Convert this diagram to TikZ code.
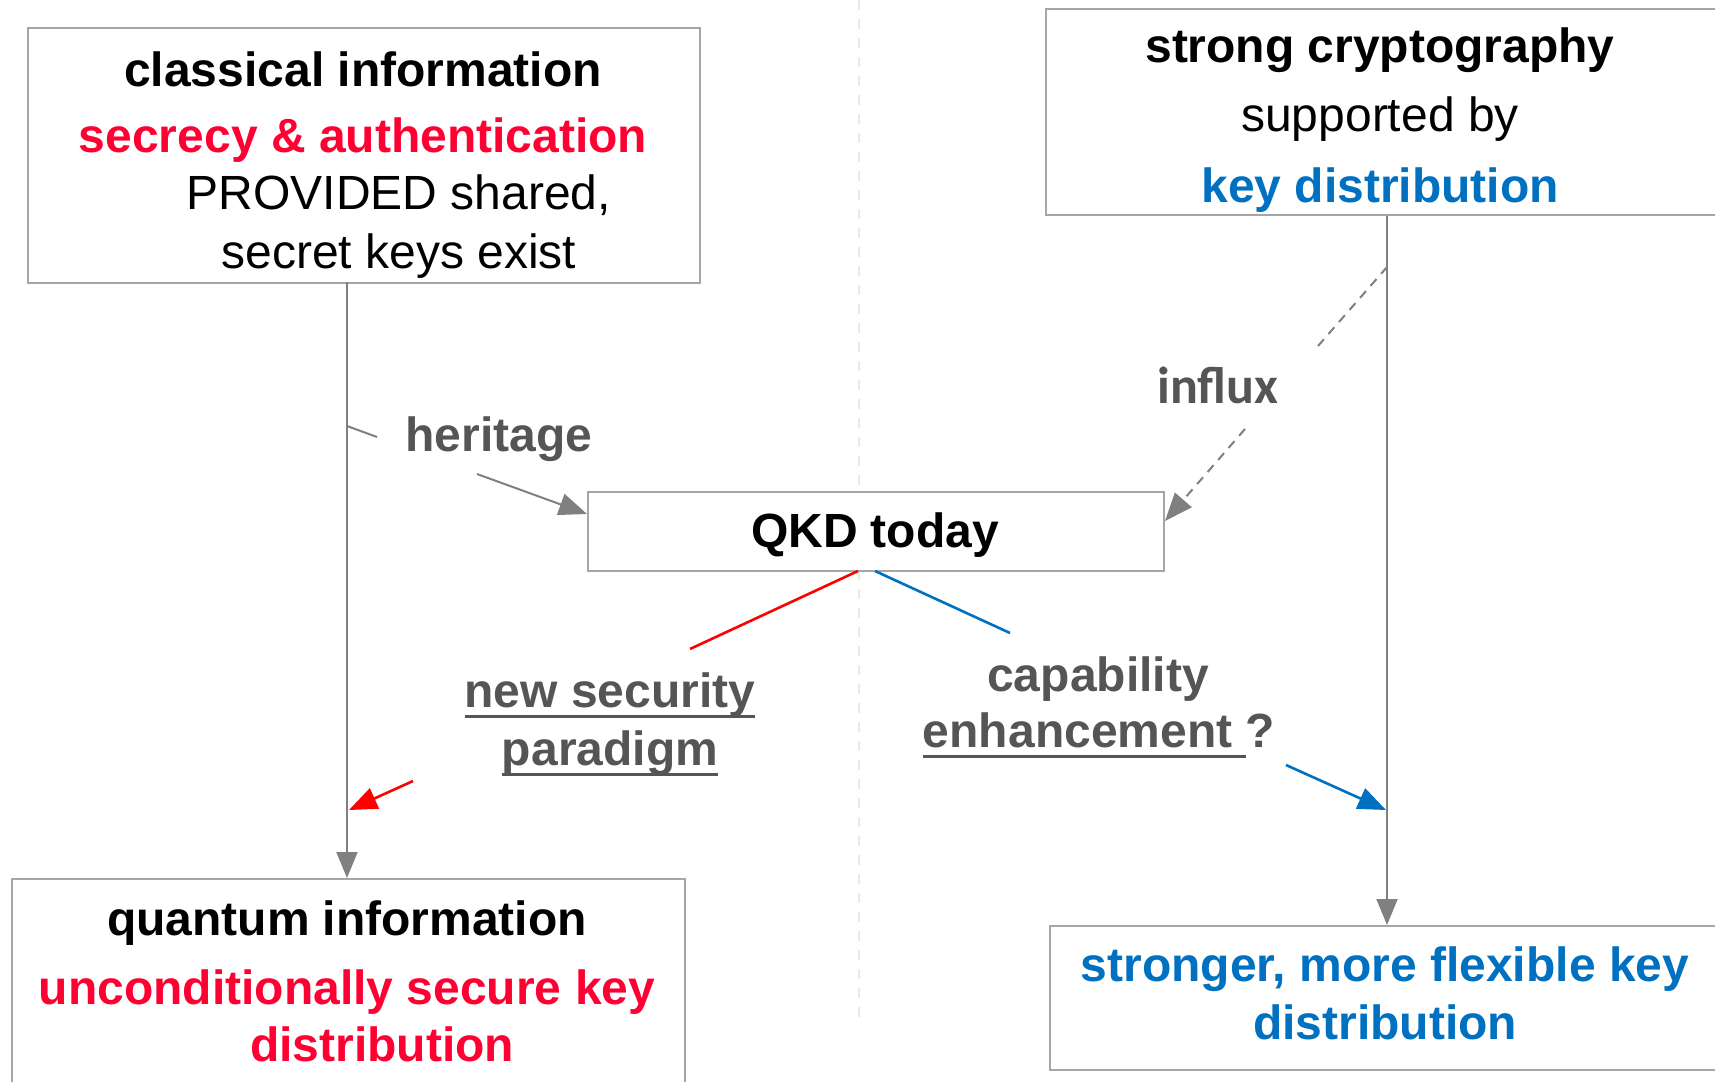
\documentclass[tikz,border=0pt]{standalone}
\usepackage{fontspec}
\setmainfont{Liberation Sans}
\newfontfamily\calfont{Carlito}
\usetikzlibrary{arrows.meta}
\definecolor{boxgray}{HTML}{A6A6A6}
\definecolor{arrgray}{HTML}{808080}
\definecolor{lblgray}{HTML}{555555}
\definecolor{myred}{HTML}{FF0033}
\definecolor{lred}{HTML}{FF0000}
\definecolor{myblue}{HTML}{0070C0}
\definecolor{sepcol}{HTML}{EBEBDD}
\newcommand\myul[1]{\setbox0\hbox{#1}\rlap{\rule[-11pt]{\wd0}{3.5pt}}\box0}
\begin{document}
\begin{tikzpicture}[x=1pt,y=-1pt,
  boxst/.style={draw=boxgray, line width=2.2pt, fill=white, anchor=north west, inner sep=0pt},
  txt/.style={anchor=base, inner sep=0pt, font=\fontsize{48}{55}\selectfont},
  btxt/.style={txt, font=\fontsize{48}{55}\selectfont\bfseries},
  garrow/.style={draw=arrgray, line width=2pt},
  cline/.style={line width=2.6pt}]
\useasboundingbox (0,0) rectangle (1715,1081);
\fill[white] (0,0) rectangle (1715,1081);
% separator
\coordinate (septop) at (859,0);
\coordinate (sepbot) at (859,1018);
\draw[sepcol, line width=2pt, dash pattern=on 10pt off 9pt] (septop) -- (sepbot);
% boxes
\node[boxst, minimum width=672pt, minimum height=255pt] (classical) at (27,27) {};
\node[boxst, minimum width=690pt, minimum height=206pt] (strong) at (1045,8) {};
\node[boxst, minimum width=576pt, minimum height=79pt] (qkd) at (587,491) {};
\node[boxst, minimum width=673pt, minimum height=230pt] (quantum) at (11,878) {};
\node[boxst, minimum width=686pt, minimum height=144pt] (stronger) at (1049,925) {};
% vertical arrows
\coordinate (ltop) at (347,282);
\coordinate (lbot) at (347,878);
\draw[garrow, -{Triangle[length=26pt,width=21pt,fill=arrgray]}] (ltop) -- (lbot);
\coordinate (rtop) at (1387,216);
\coordinate (rbot) at (1387,925);
\draw[garrow, -{Triangle[length=26pt,width=21pt,fill=arrgray]}] (rtop) -- (rbot);
% heritage
\coordinate (h0) at (347,426);
\coordinate (h1) at (377,437);
\coordinate (h2) at (477,474);
\coordinate (h3) at (587,514);
\draw[garrow] (h0) -- (h1);
\draw[garrow, -{Triangle[length=28pt,width=22pt,fill=arrgray]}] (h2) -- (h3);
% influx
\coordinate (i0) at (1387,267);
\coordinate (i1) at (1318,346);
\coordinate (i2) at (1245,429);
\coordinate (i3) at (1165,521);
\draw[garrow, dash pattern=on 9pt off 7pt] (i0) -- (i1);
\draw[garrow, dash pattern=on 9pt off 7pt, -{Triangle[length=28pt,width=22pt,fill=arrgray]}] (i2) -- (i3);
% red
\coordinate (r0) at (858,571);
\coordinate (r1) at (690,649);
\coordinate (r2) at (413,781);
\coordinate (r3) at (349,810);
\draw[lred, cline] (r0) -- (r1);
\draw[lred, cline, -{Triangle[length=28pt,width=22pt,fill=lred]}] (r2) -- (r3);
% blue
\coordinate (b0) at (875,571);
\coordinate (b1) at (1010,633);
\coordinate (b2) at (1286,765);
\coordinate (b3) at (1386,810);
\draw[myblue, cline] (b0) -- (b1);
\draw[myblue, cline, -{Triangle[length=28pt,width=22pt,fill=myblue]}] (b2) -- (b3);
% texts in boxes
\node[btxt] (c1) at (363,86) {classical information};
\node[btxt, text=myred] (c2) at (363,152) {secrecy \& authentication};
\node[txt] (c3) at (399,209) {PROVIDED shared,};
\node[txt] (c4) at (399,268) {secret keys exist};
\node[btxt] (s1) at (1380,63) {strong cryptography};
\node[txt] (s2) at (1380,131) {supported by};
\node[btxt, text=myblue] (s3) at (1380,202) {key distribution};
\node[btxt] (q1) at (875,547) {QKD today};
\node[btxt] (u1) at (347,935) {quantum information};
\node[btxt, text=myred] (u2) at (347,1004) {unconditionally secure key};
\node[btxt, text=myred] (u3) at (382,1061) {distribution};
\node[btxt, text=myblue] (w1) at (1385,981) {stronger, more flexible key};
\node[btxt, text=myblue] (w2) at (1385,1039) {distribution};
% labels
\node[btxt, text=lblgray] (her) at (499,451) {heritage};
\node[txt, text=lblgray, font=\fontsize{52}{60}\selectfont\calfont\bfseries] (inf) at (1218,403) {influx};
\node[btxt, text=lblgray] (ns1) at (610,707) {\myul{new security}};
\node[btxt, text=lblgray] (ns2) at (610,765) {\myul{paradigm}};
\node[btxt, text=lblgray] (ce1) at (1098,691) {capability};
\node[btxt, text=lblgray] (ce2) at (1099,747) {\myul{enhancement }?};
\end{tikzpicture}
\end{document}
